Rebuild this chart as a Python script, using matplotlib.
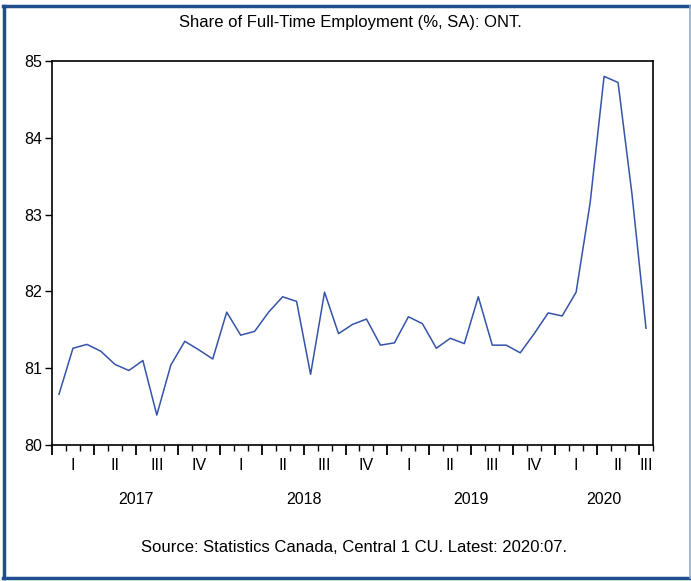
import numpy as np
import matplotlib.pyplot as plt
from matplotlib.lines import Line2D
import matplotlib.transforms as mtransforms

plt.rcParams['font.family'] = ['Liberation Sans', 'DejaVu Sans']

# monthly share of full-time employment, 2017:01 - 2020:07
months = ["2017:%02d" % m for m in range(1, 13)] + ["2018:%02d" % m for m in range(1, 13)] \
    + ["2019:%02d" % m for m in range(1, 13)] + ["2020:%02d" % m for m in range(1, 8)]
share_ft = [80.66, 81.26, 81.31, 81.22, 81.05, 80.97, 81.10, 80.39, 81.04, 81.35, 81.24, 81.12,
            81.73, 81.43, 81.48, 81.73, 81.93, 81.87, 80.92, 81.99, 81.45, 81.57, 81.64, 81.30,
            81.33, 81.67, 81.58, 81.26, 81.39, 81.32, 81.93, 81.30, 81.30, 81.20, 81.45, 81.72,
            81.68, 81.99, 83.15, 84.80, 84.72, 83.26, 81.52]
quarter_names = ["I", "II", "III", "IV"]
years = ["2017", "2018", "2019", "2020"]
y_ticks = [80, 81, 82, 83, 84, 85]

W, H = 691, 581
fig = plt.figure(figsize=(W/100, H/100), dpi=100)
ax = fig.add_axes([52/W, 1-445/H, (653-52)/W, (445-61)/H])

x = np.arange(len(share_ft))
ax.plot(x, share_ft, color='#3553A8', lw=1.1)

ax.set_xlim(-0.5, len(share_ft)-0.5)
ax.set_ylim(80, 85)
ax.set_yticks(y_ticks)
ax.tick_params(axis='y', direction='out', length=5, width=1, labelsize=11.5, pad=2)

# month ticks (minor) and quarter ticks (major)
ax.set_xticks(np.arange(-0.5, len(share_ft)-0.4, 1), minor=True)
ax.set_xticks(np.arange(-0.5, len(share_ft)-0.4, 3))
ax.set_xticklabels([])
ax.tick_params(axis='x', which='minor', direction='out', length=4, width=1)
ax.tick_params(axis='x', which='major', direction='out', length=7, width=1.3)
for s in ax.spines.values():
    s.set_linewidth(1.2)

trans = mtransforms.blended_transform_factory(ax.transData, ax.transAxes)
off_q = mtransforms.offset_copy(trans, fig=fig, x=0, y=-21, units='dots')
off_y = mtransforms.offset_copy(trans, fig=fig, x=0, y=-55, units='dots')

n = len(share_ft)
for q in range(0, n, 3):
    last = min(q + 2, n - 1)
    qi = (q // 3) % 4
    ax.text((q + last) / 2, 0, quarter_names[qi], transform=off_q,
            ha='center', va='center', fontsize=11.5)

for k, yr in enumerate(years):
    first = k * 12
    last = min(first + 11, n - 1)
    ax.text((first + last) / 2, 0, yr, transform=off_y,
            ha='center', va='center', fontsize=11.5)

fig.text(350/W, 1-22/H, "Share of Full-Time Employment (%, SA): ONT.",
         ha='center', va='center', fontsize=12)
fig.text(354/W, 1-548/H, "Source: Statistics Canada, Central 1 CU. Latest: 2020:07.",
         ha='center', va='center', fontsize=12)

# frame around the figure
def px(xx, yy):
    return [v/W for v in xx], [1-v/H for v in yy]
dark = '#1F4F8E'
for xx, yy, c, lw in [([4, 4], [6, 578], dark, 2.5),
                      ([3, 690], [6, 6], dark, 2.5),
                      ([3, 690], [578, 578], dark, 2.5),
                      ([689.5, 689.5], [6, 578], '#8FAAD0', 1.2)]:
    a, b = px(xx, yy)
    fig.add_artist(Line2D(a, b, color=c, lw=lw, transform=fig.transFigure))

fig.savefig("out.png", dpi=100)
